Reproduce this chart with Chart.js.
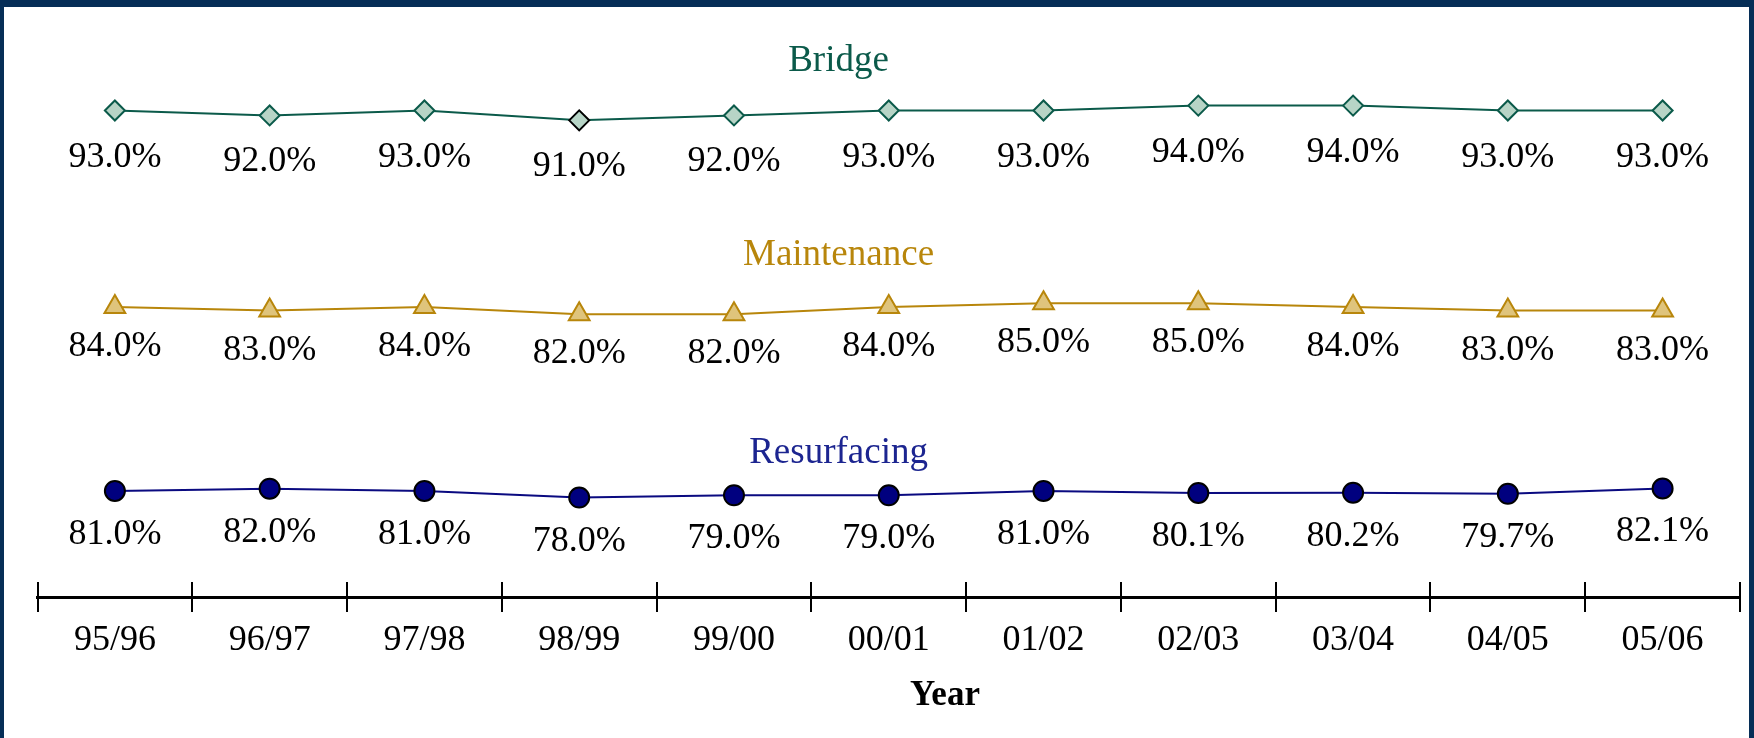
<!DOCTYPE html>
<html>
<head>
<meta charset="utf-8">
<script src="https://cdn.jsdelivr.net/npm/chart.js@4.4.1/dist/chart.umd.min.js"></script>
<style>
html, body { margin: 0; padding: 0; background: #fff; }
#wrap { position: relative; width: 1754px; height: 738px; }
#frame {
    position: absolute; inset: 0; box-sizing: border-box; pointer-events: none;
    border-top: 7px solid #062e57; border-left: 4px solid #062e57; border-right: 5px solid #062e57;
}
</style>
</head>
<body>
<div id="wrap"><canvas id="chart"></canvas><div id="frame"></div></div>
<script>
const years = ['95/96', '96/97', '97/98', '98/99', '99/00', '00/01', '01/02', '02/03', '03/04', '04/05', '05/06'];
const bridge = [93.0, 92.0, 93.0, 91.0, 92.0, 93.0, 93.0, 94.0, 94.0, 93.0, 93.0];
const maintenance = [84.0, 83.0, 84.0, 82.0, 82.0, 84.0, 85.0, 85.0, 84.0, 83.0, 83.0];
const resurfacing = [81.0, 82.0, 81.0, 78.0, 79.0, 79.0, 81.0, 80.1, 80.2, 79.7, 82.1];
const seriesNames = ['Bridge', 'Maintenance', 'Resurfacing'];
const axisTitle = 'Year';

const SERIF = '"Liberation Serif", "Times New Roman", serif';

// labels, series titles and the upper half of the axis ticks
const decorations = {
    id: 'decorations',
    afterDatasetsDraw(chart) {
        const { ctx, chartArea: area } = chart;
        ctx.save();
        ctx.textAlign = 'center';
        ctx.textBaseline = 'alphabetic';
        chart.data.datasets.forEach((ds, i) => {
            const meta = chart.getDatasetMeta(i);
            ctx.font = '36px ' + SERIF;
            ctx.fillStyle = '#000';
            meta.data.forEach((pt, j) => {
                ctx.fillText(ds.data[j].toFixed(1) + '%', pt.x, pt.y + ds.labelGap);
            });
            ctx.font = '37px ' + SERIF;
            ctx.fillStyle = ds.titleColor;
            ctx.fillText(ds.label, area.left + area.width * 0.4705, area.top + area.height * ds.titlePos);
        });
        ctx.restore();
    },
    afterDraw(chart) {
        const { ctx, chartArea: area, scales: { x } } = chart;
        ctx.save();
        ctx.strokeStyle = '#000';
        ctx.lineWidth = 2;
        ctx.beginPath();
        for (let i = 0; i <= years.length; i++) {
            const px = Math.round(x.getPixelForValue(i - 0.5));
            ctx.moveTo(px, x.top - 15);
            ctx.lineTo(px, x.top);
        }
        ctx.stroke();
        ctx.font = 'bold 35px ' + SERIF;
        ctx.fillStyle = '#000';
        ctx.textAlign = 'center';
        ctx.fillText(axisTitle, area.left + area.width * 0.533, area.bottom + 108);
        ctx.restore();
    }
};

const ctx = document.getElementById('chart').getContext('2d');
new Chart(ctx, {
    type: 'line',
    data: {
        labels: years,
        datasets: [{
            label: seriesNames[0],
            data: bridge,
            yAxisID: 'yB',
            borderColor: '#0b5a4a',
            borderWidth: 2,
            pointStyle: 'rectRot',
            pointRadius: 10,
            pointBorderWidth: 2,
            pointBackgroundColor: '#b7d4c6',
            pointBorderColor: ['#0b5a4a', '#0b5a4a', '#0b5a4a', '#000', '#0b5a4a', '#0b5a4a',
                '#0b5a4a', '#0b5a4a', '#0b5a4a', '#0b5a4a', '#0b5a4a'],
            titleColor: '#0b5a4a',
            titlePos: 0.0884,
            labelGap: 56
        }, {
            label: seriesNames[1],
            data: maintenance,
            yAxisID: 'yM',
            borderColor: '#b8860b',
            borderWidth: 2,
            pointStyle: 'triangle',
            pointRadius: 12,
            pointBorderWidth: 2,
            pointBackgroundColor: '#dfc47c',
            pointBorderColor: '#b8860b',
            titleColor: '#b8860b',
            titlePos: 0.4246,
            labelGap: 49
        }, {
            label: seriesNames[2],
            data: resurfacing,
            yAxisID: 'yR',
            borderColor: '#0a0a80',
            borderWidth: 2,
            pointStyle: 'circle',
            pointRadius: 10,
            pointBorderWidth: 2,
            pointBackgroundColor: '#00007f',
            pointBorderColor: '#000',
            titleColor: '#1c2590',
            titlePos: 0.7672,
            labelGap: 53
        }]
    },
    options: {
        responsive: true,
        maintainAspectRatio: false,
        animation: false,
        layout: { padding: { top: 20, left: 37.5, right: 8, bottom: 68 } },
        elements: { line: { tension: 0 } },
        plugins: {
            legend: { display: false },
            tooltip: { enabled: false }
        },
        scales: {
            x: {
                offset: true,
                grid: {
                    offset: true, drawOnChartArea: false, drawTicks: true,
                    tickLength: 15, color: '#000', lineWidth: 2
                },
                border: { display: true, color: '#000', width: 3 },
                ticks: {
                    color: '#000', padding: 11, maxRotation: 0, autoSkip: false,
                    font: { family: SERIF, size: 36, lineHeight: 1 }
                }
            },
            yB: { display: false, min: -5.9, max: 111.4 },
            yM: { display: false, min: 4.75, max: 162.4 },
            yR: { display: false, min: 33.0, max: 294.1 }
        }
    },
    plugins: [decorations]
});
</script>
</body>
</html>
